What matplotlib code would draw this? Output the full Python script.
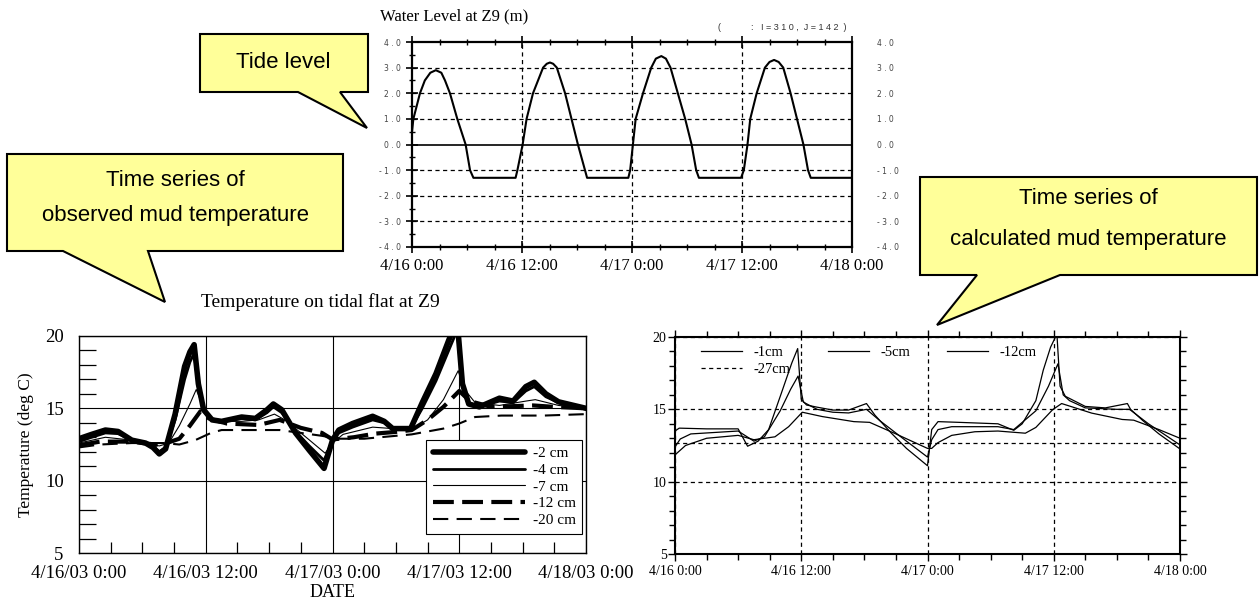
import matplotlib
matplotlib.use("Agg")
import matplotlib.pyplot as plt
from matplotlib.ticker import MultipleLocator, FixedLocator, FixedFormatter
from matplotlib.patches import Polygon

plt.rcParams['lines.scale_dashes'] = False

W, H = 1260, 607
SERIF = ['Liberation Serif', 'DejaVu Serif']
SANS = ['Liberation Sans', 'DejaVu Sans']

# ---------------- data ----------------
date_ticks = [0, 12, 24, 36, 48]
tide_xlabels = ['4/16 0:00', '4/16 12:00', '4/17 0:00', '4/17 12:00', '4/18 0:00']
obs_xlabels = ['4/16/03 0:00', '4/16/03 12:00', '4/17/03 0:00', '4/17/03 12:00', '4/18/03 0:00']
calc_xlabels = ['4/16 0:00', '4/16 12:00', '4/17 0:00', '4/17 12:00', '4/18 0:00']

tide_levels = [-4, -3, -2, -1, 0, 1, 2, 3, 4]
tide_ylabels = ['- 4 . 0', '- 3 . 0', '- 2 . 0', '- 1 . 0', '0 . 0', '1 . 0', '2 . 0', '3 . 0', '4 . 0']

tide_hours = [0, 0.15, 0.87, 1.4, 2.0, 2.6, 3.2, 3.6, 4.14, 4.94, 5.85, 6.33, 6.7,
              11.3, 11.5, 12.07, 12.5, 13.2, 14.3, 14.7, 15.05, 15.4, 15.8, 16.7, 17.4, 18.1, 18.87, 19.1,
              23.6, 23.8, 24.1, 24.4, 25.2, 26.1, 26.6, 27.2, 27.7, 28.2, 29.0, 29.8, 30.5, 31.0, 31.3,
              35.9, 36.2, 36.6, 36.9, 37.6, 38.5, 39.0, 39.5, 40.0, 40.5, 41.3, 42.0, 42.7, 43.2, 43.5, 48]
tide_level = [0.5, 1.0, 2.0, 2.5, 2.8, 2.9, 2.8, 2.5, 2.0, 1.0, 0.0, -1.0, -1.3,
              -1.3, -1.0, 0.0, 1.0, 2.0, 3.0, 3.15, 3.2, 3.15, 3.0, 2.0, 1.0, 0.0, -1.0, -1.3,
              -1.3, -1.0, 0.0, 1.0, 2.0, 3.0, 3.35, 3.45, 3.35, 3.0, 2.0, 1.0, 0.0, -1.0, -1.3,
              -1.3, -1.0, 0.0, 1.0, 2.0, 3.0, 3.22, 3.3, 3.22, 3.0, 2.0, 1.0, 0.0, -1.0, -1.3, -1.3]

# observed mud temperature
obs_labels = ['-2 cm', '-4 cm', '-7 cm', '-12 cm', '-20 cm']
obs_h_shallow = [0, 1.2, 2.5, 3.7, 5.0, 6.3, 7.0, 7.6, 8.2, 9.1, 10.0, 10.5, 10.9, 11.3, 11.8,
                 12.6, 13.5, 15.4, 16.7, 17.8, 18.4, 19.2, 20.5, 21.8, 23.2, 24.0, 24.6, 25.9,
                 27.8, 28.9, 29.7, 31.4, 32.5, 33.8, 35.0, 35.8, 36.3, 36.9, 37.9, 39.8, 41.1,
                 42.3, 43.1, 44.2, 45.4, 48]
obs_2cm = [12.9, 13.2, 13.5, 13.4, 12.8, 12.6, 12.3, 11.85, 12.2, 14.6, 17.9, 18.9, 19.4, 16.7, 14.9,
           14.2, 14.1, 14.4, 14.3, 14.9, 15.3, 14.9, 13.3, 12.1, 10.85, 12.8, 13.5, 13.95,
           14.45, 14.1, 13.6, 13.6, 15.4, 17.4, 19.7, 21.1, 16.7, 15.3, 15.1, 15.7, 15.5,
           16.5, 16.8, 16.0, 15.45, 15.0]
obs_4cm = [12.7, 13.0, 13.3, 13.25, 12.8, 12.6, 12.4, 12.0, 12.3, 14.2, 17.0, 18.2, 18.8, 16.5, 14.8,
           14.2, 14.1, 14.3, 14.2, 14.7, 15.1, 14.7, 13.4, 12.4, 11.4, 12.8, 13.3, 13.7,
           14.2, 14.0, 13.6, 13.6, 15.0, 16.9, 19.0, 20.4, 16.5, 15.3, 15.1, 15.5, 15.4,
           16.2, 16.5, 15.8, 15.4, 15.0]
obs_h_7cm = [0, 2.5, 5.0, 6.3, 7.6, 8.5, 9.5, 10.5, 11.1, 11.8, 12.6, 13.5, 15.4, 17.0, 18.5, 19.5,
             21.5, 23.3, 24.0, 25.0, 27.8, 29.7, 31.4, 33.0, 34.5, 35.9, 36.5, 37.5, 39.8, 42.3,
             43.2, 45.4, 48]
obs_7cm = [12.6, 13.0, 12.8, 12.6, 12.4, 12.6, 13.8, 15.3, 16.3, 15.0, 14.2, 14.1, 14.1, 14.2, 14.6, 14.2,
           13.0, 11.9, 12.6, 13.2, 13.7, 13.6, 13.5, 14.2, 15.6, 17.6, 16.3, 15.4, 15.2, 15.5,
           15.6, 15.2, 15.0]
obs_h_12cm = [0, 2.0, 5.0, 7.7, 9.5, 10.5, 11.5, 12.3, 14.0, 17.0, 19.0, 21.0, 23.0, 24.0, 26.0,
              28.0, 30.0, 31.5, 33.0, 34.5, 36.0, 37.0, 39.0, 41.0, 43.0, 45.0, 48]
obs_12cm = [12.45, 12.7, 12.7, 12.45, 12.9, 13.8, 14.8, 14.3, 13.95, 13.85, 14.2, 13.65, 13.3, 12.85, 13.0,
            13.25, 13.37, 13.5, 14.2, 15.1, 16.2, 15.5, 15.1, 15.15, 15.2, 15.1, 15.0]
obs_h_20cm = [0, 2.0, 5.0, 8.0, 9.5, 11.0, 12.5, 13.5, 16.0, 19.0, 21.0, 23.0, 24.5, 27.0, 30.0,
              31.5, 33.0, 34.5, 36.0, 37.5, 40.0, 44.0, 48]
obs_20cm = [12.3, 12.5, 12.6, 12.6, 12.5, 12.8, 13.3, 13.5, 13.5, 13.5, 13.3, 13.1, 12.9, 12.9, 13.1,
            13.2, 13.4, 13.6, 13.95, 14.4, 14.5, 14.5, 14.6]

# calculated mud temperature
calc_labels = ['-1cm', '-5cm', '-12cm', '-27cm']
calc_h_1cm = [0, 0.4, 3.0, 6.0, 6.9, 7.9, 8.9, 10.1, 11.1, 11.66, 12.0, 12.5, 13.5, 15.0, 16.5, 18.2,
              19.0, 20.5, 22.0, 24.0, 24.4, 25.0, 27.0, 30.7, 32.2, 33.0, 34.3, 35.0, 35.7, 36.3,
              36.6, 37.1, 39.0, 40.9, 43.0, 43.3, 44.5, 46.0, 48.0]
calc_1cm = [13.5, 13.7, 13.65, 13.65, 12.45, 12.8, 13.6, 16.1, 18.2, 19.2, 15.7, 15.3, 15.15, 14.95, 14.95, 15.4,
            14.6, 13.4, 12.3, 11.1, 13.6, 14.15, 14.1, 14.0, 13.55, 14.0, 15.6, 17.7, 19.3, 20.2,
            16.6, 15.9, 15.2, 15.1, 15.4, 15.0, 14.2, 13.3, 12.26]
calc_h_5cm = [0, 0.5, 1.5, 6.0, 7.5, 8.5, 10.0, 11.0, 11.7, 12.2, 13.5, 15.0, 16.5, 18.2, 19.5, 22.0,
              24.0, 24.4, 25.0, 26.3, 30.7, 32.2, 34.3, 35.5, 36.4, 36.9, 37.5, 39.0, 42.0, 43.2,
              45.0, 48.0]
calc_5cm = [12.4, 12.95, 13.3, 13.5, 12.8, 13.1, 14.9, 16.4, 17.3, 15.5, 15.0, 14.8, 14.75, 15.0, 14.2, 12.8,
            11.7, 12.9, 13.6, 13.8, 13.8, 13.6, 14.9, 16.6, 18.15, 16.0, 15.6, 15.1, 15.0, 15.0,
            14.0, 12.54]
calc_h_12cm = [0, 1.0, 3.0, 6.0, 7.5, 9.5, 10.8, 12.1, 14.0, 17.0, 18.5, 21.0, 24.0, 24.4, 25.0, 26.3,
               28.5, 30.7, 33.3, 34.3, 35.9, 36.75, 39.6, 42.5, 43.6, 46.0, 48.0]
calc_12cm = [11.85, 12.5, 13.0, 13.2, 12.9, 13.1, 13.8, 14.8, 14.5, 14.15, 14.1, 13.3, 12.3, 12.3, 12.7, 13.2,
             13.45, 13.5, 13.35, 13.75, 14.98, 15.4, 14.74, 14.3, 14.25, 13.6, 13.0]
calc_h_27cm = [0, 48]
calc_27cm = [12.7, 12.7]

temp_ticks = [5, 10, 15, 20]

# ---------------- figure ----------------
fig = plt.figure(figsize=(12.6, 6.07), dpi=100)


def px_axes(l, t, r, b, **kw):
    return fig.add_axes([l / W, 1 - b / H, (r - l) / W, (b - t) / H], **kw)


# ---- top: tide level ----
ax1 = px_axes(412, 42, 852, 247)
ax1.plot(tide_hours, tide_level, color='black', lw=1.5)
ax1.set_xlim(0, 48)
ax1.set_ylim(-4, 4)
ax1.xaxis.set_major_locator(FixedLocator(date_ticks))
ax1.xaxis.set_major_formatter(FixedFormatter(tide_xlabels))
ax1.xaxis.set_minor_locator(MultipleLocator(3))
ax1.yaxis.set_major_locator(FixedLocator(tide_levels))
ax1.yaxis.set_major_formatter(FixedFormatter(tide_ylabels))
ax1.yaxis.set_minor_locator(MultipleLocator(0.5))
ax1.tick_params(axis='both', which='major', direction='inout', length=8, width=1.2,
                top=True, right=True)
ax1.tick_params(axis='both', which='minor', direction='inout', length=5, width=1.0,
                top=True, right=True)
ax1.tick_params(axis='x', which='major', pad=4, labelsize=12)
ax1.tick_params(axis='y', which='major', pad=4, labelsize=5.5, labelcolor='#444444')
for lab in ax1.get_xticklabels():
    lab.set_family(SERIF)
for v in [-3, -2, -1, 1, 2, 3]:
    ax1.axhline(v, color='black', lw=0.9, ls=(0, (3, 2.5)))
ax1.axhline(0, color='black', lw=1.2)
for v in [12, 24, 36]:
    ax1.axvline(v, color='black', lw=0.9, ls=(0, (3, 2.5)))
for s in ax1.spines.values():
    s.set_linewidth(1.6)
ax1r = ax1.twinx()
ax1r.set_ylim(-4, 4)
ax1r.yaxis.set_major_locator(FixedLocator(tide_levels))
ax1r.yaxis.set_major_formatter(FixedFormatter(tide_ylabels))
ax1r.tick_params(axis='y', which='major', length=0, pad=18, labelsize=5.5, labelcolor='#444444')
for s in ax1r.spines.values():
    s.set_visible(False)

fig.text(380 / W, 1 - 16 / H, 'Water Level at Z9 (m)', family=SERIF, fontsize=12,
         ha='left', va='center')
fig.text(718 / W, 1 - 28 / H, '(            :   I = 3 1 0 ,  J = 1 4 2  )', family=SANS,
         fontsize=6.5, ha='left', va='center', color='#333333')

# ---- bottom-left: observed ----
ax2 = px_axes(79, 336, 586, 553)
obs_series = [(obs_h_shallow, obs_2cm), (obs_h_shallow, obs_4cm), (obs_h_7cm, obs_7cm),
              (obs_h_12cm, obs_12cm), (obs_h_20cm, obs_20cm)]
obs_styles = [dict(lw=4.0, ls='-'), dict(lw=2.0, ls='-'), dict(lw=0.8, ls='-'),
              dict(lw=3.0, ls=(0, (15, 6))), dict(lw=1.5, ls=(0, (11, 6)))]
obs_lines = []
for (hx, vy), st, lab in zip(obs_series, obs_styles, obs_labels):
    ln, = ax2.plot(hx, vy, color='black', label=lab, solid_joinstyle='round',
                   solid_capstyle='round', **st)
    obs_lines.append(ln)
ax2.set_xlim(0, 48)
ax2.set_ylim(5, 20)
ax2.xaxis.set_major_locator(FixedLocator(date_ticks))
ax2.xaxis.set_major_formatter(FixedFormatter(obs_xlabels))
ax2.xaxis.set_minor_locator(MultipleLocator(3))
ax2.yaxis.set_major_locator(FixedLocator(temp_ticks))
ax2.yaxis.set_minor_locator(MultipleLocator(1))
ax2.tick_params(axis='both', which='major', length=0, labelsize=13.5)
ax2.tick_params(axis='x', which='major', pad=9)
ax2.tick_params(axis='y', which='major', pad=11)
ax2.tick_params(axis='x', which='minor', direction='in', length=8, width=0.9)
ax2.tick_params(axis='y', which='minor', direction='in', length=12, width=0.9)
for lab in ax2.get_xticklabels() + ax2.get_yticklabels():
    lab.set_family(SERIF)
ax2.grid(True, which='major', color='black', lw=0.8)
for s in ax2.spines.values():
    s.set_linewidth(1.0)
ax2.set_xlabel('DATE', family=SERIF, fontsize=13, labelpad=1)
ax2.set_ylabel('Temperature (deg C)', family=SERIF, fontsize=12.5, labelpad=8)
leg2 = ax2.legend(handles=obs_lines, loc='lower right', bbox_to_anchor=(0.993, 0.087),
                  borderaxespad=0, prop={'family': SERIF, 'size': 11}, handlelength=6.0,
                  labelspacing=0.2, handletextpad=0.5, borderpad=0.45, fancybox=False,
                  framealpha=1, edgecolor='black')
leg2.get_frame().set_linewidth(0.8)
fig.text(320 / W, 1 - 302 / H, 'Temperature on tidal flat at Z9', family=SERIF, fontsize=14,
         ha='center', va='center')

# ---- bottom-right: calculated ----
ax3 = px_axes(675, 337, 1180, 554)
l1, = ax3.plot(calc_h_1cm, calc_1cm, color='black', lw=0.9, label=calc_labels[0])
l5, = ax3.plot(calc_h_5cm, calc_5cm, color='black', lw=0.9, label=calc_labels[1])
l12, = ax3.plot(calc_h_12cm, calc_12cm, color='black', lw=0.9, label=calc_labels[2])
l27, = ax3.plot(calc_h_27cm, calc_27cm, color='black', lw=0.9, ls=(0, (3, 2.5)), label=calc_labels[3])
ax3.set_xlim(0, 48)
ax3.set_ylim(5, 20)
ax3.xaxis.set_major_locator(FixedLocator(date_ticks))
ax3.xaxis.set_major_formatter(FixedFormatter(calc_xlabels))
ax3.xaxis.set_minor_locator(MultipleLocator(3))
ax3.yaxis.set_major_locator(FixedLocator(temp_ticks))
ax3.yaxis.set_minor_locator(MultipleLocator(1))
ax3.tick_params(axis='both', which='both', direction='out', top=True, right=True, width=1.0)
ax3.tick_params(axis='both', which='major', length=5, labelsize=10)
ax3.tick_params(axis='both', which='minor', length=4)
ax3.tick_params(axis='x', which='major', pad=3)
ax3.tick_params(axis='y', which='major', pad=1)
for lab in ax3.get_xticklabels() + ax3.get_yticklabels():
    lab.set_family(SERIF)
ax3.grid(True, which='major', color='black', lw=0.9, ls=(0, (3, 2.5)))
for s in ax3.spines.values():
    s.set_linewidth(1.5)
ax3.legend(handles=[l1, l27, l5, l12], labels=[calc_labels[0], calc_labels[3], calc_labels[1], calc_labels[2]],
           ncols=3, loc='upper left', bbox_to_anchor=(0.0515, 0.96), borderaxespad=0,
           borderpad=0, frameon=False, prop={'family': SERIF, 'size': 10.5},
           handlelength=2.8, handletextpad=0.8, columnspacing=2.55, labelspacing=0.3)

# ---- callouts ----
ov = fig.add_axes([0, 0, 1, 1], zorder=10)
ov.set_xlim(0, W)
ov.set_ylim(H, 0)
ov.axis('off')
ov.patch.set_alpha(0)

callouts = [
    [(200, 34), (368, 34), (368, 92), (340, 92), (367, 128), (298, 92), (200, 92)],
    [(7, 154), (343, 154), (343, 251), (148, 251), (165, 302), (63, 251), (7, 251)],
    [(920, 177), (1257, 177), (1257, 275), (1060, 275), (937, 325), (977, 275), (920, 275)],
]
for pts in callouts:
    ov.add_patch(Polygon(pts, closed=True, facecolor='#FFFF99', edgecolor='black', lw=1.5,
                         joinstyle='miter'))

ov.text(283, 62, 'Tide level', family=SANS, fontsize=16, ha='center', va='center')
ov.text(175, 181, 'Time series of', family=SANS, fontsize=16, ha='center', va='center')
ov.text(175, 215, 'observed mud temperature', family=SANS, fontsize=16, ha='center', va='center')
ov.text(1088, 199, 'Time series of', family=SANS, fontsize=16, ha='center', va='center')
ov.text(1088, 239, 'calculated mud temperature', family=SANS, fontsize=16, ha='center', va='center')

fig.savefig('out.png', dpi=100)
